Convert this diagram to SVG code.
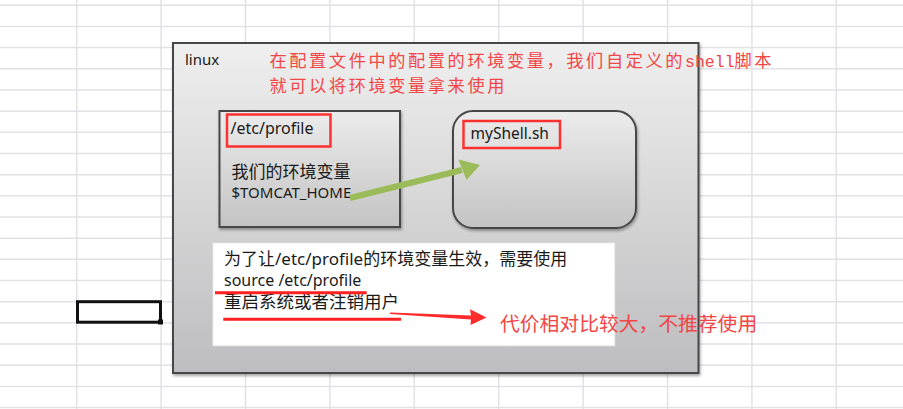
<svg xmlns="http://www.w3.org/2000/svg" width="903" height="409" viewBox="0 0 903 409">
<defs>
<style>
.grid{stroke:#e2e2e6;stroke-width:1.5;fill:none}
.box{stroke:#474747;stroke-width:2}
.hl{fill:none;stroke:#ff3030;stroke-width:2.5}
.lat{font-family:"Noto Sans","Noto Sans CJK SC",sans-serif;fill:#1a1a1a}
.red{font-family:"Noto Sans CJK SC",sans-serif;fill:#f24646;font-size:19.8px}
.title{font-size:17.2px;letter-spacing:2.6px}
.mono{font-family:"Liberation Mono",monospace;font-size:16.5px;letter-spacing:0}
</style>
<linearGradient id="gOuter" x1="0" y1="0" x2="0" y2="1">
<stop offset="0" stop-color="#efefef"/>
<stop offset="1" stop-color="#bdbcbe"/>
</linearGradient>
<linearGradient id="gInner" x1="0" y1="0" x2="0" y2="1">
<stop offset="0" stop-color="#ececec"/>
<stop offset="1" stop-color="#c3c3c3"/>
</linearGradient>
<filter id="sh" x="-5%" y="-5%" width="110%" height="115%">
<feDropShadow dx="1" dy="2" stdDeviation="1.5" flood-color="#000" flood-opacity="0.35"/>
</filter>
</defs>
<rect width="903" height="409" fill="#ffffff"/>
<g id="grid">
<path class="grid" d="M0 5.3H903M0 26.5H903M0 47.6H903M0 68.8H903M0 90H903M0 111.2H903M0 132.3H903M0 153.5H903M0 174.7H903M0 195.8H903M0 217H903M0 238.2H903M0 259.3H903M0 280.5H903M0 301.7H903M0 322.8H903M0 344H903M0 365.2H903M0 386.4H903M0 407.5H903"/>
<path class="grid" d="M76.7 0V409M161.1 0V409M245.5 0V409M329.9 0V409M414.3 0V409M498.7 0V409M583.1 0V409M667.5 0V409M751.9 0V409M836.3 0V409"/>
</g>
<g id="selected-cell">
<rect x="77.5" y="301.7" width="83" height="20.5" fill="none" stroke="#111" stroke-width="3"/>
<rect x="158" y="319.5" width="5" height="5" fill="#111"/>
</g>
<g id="linux">
<rect class="box" x="173" y="43" width="525.5" height="330" fill="url(#gOuter)" filter="url(#sh)"/>
<text class="lat" x="185" y="65" font-size="15" fill="#333">linux</text>
<text class="red title" x="269.5" y="66.5">在配置文件中的配置的环境变量，我们自定义的<tspan class="mono">shell</tspan>脚本</text>
<text class="red title" x="269.5" y="92">就可以将环境变量拿来使用</text>
</g>
<g id="etc-profile">
<rect class="box" x="219.5" y="111" width="180.5" height="116" fill="url(#gInner)" filter="url(#sh)"/>
<rect class="hl" x="227" y="114.5" width="103.5" height="32"/>
<text class="lat" x="230.5" y="133.5" font-size="16">/etc/profile</text>
<text class="lat" x="231.5" y="178" font-size="17">我们的环境变量</text>
<text class="lat" x="231.5" y="198" font-size="15">$TOMCAT_HOME</text>
</g>
<g id="myshell">
<rect class="box" x="453" y="111" width="183" height="117" rx="20" fill="url(#gInner)" filter="url(#sh)"/>
<rect class="hl" x="463.5" y="121" width="96.5" height="27"/>
<text class="lat" x="470.5" y="138.5" font-size="15.5">myShell.sh</text>
</g>
<g id="note">
<rect x="212.7" y="242.7" width="402.3" height="103.3" fill="#ffffff" stroke="#d8d8d8" stroke-width="1"/>
<text class="lat" x="224" y="265" font-size="17">为了让/etc/profile的环境变量生效，需要使用</text>
<text class="lat" x="224" y="286" font-size="16">source /etc/profile</text>
<text class="lat" x="224" y="308" font-size="17.5">重启系统或者注销用户</text>
<path d="M215 292.7H366.7M223.3 319.3H401" stroke="#ff2020" stroke-width="3" fill="none"/>
</g>
<g id="cost">
<text class="red" x="500" y="331">代价相对比较大，不推荐使用</text>
</g>
<g id="connectors">
<g id="env-to-shell">
<path d="M350 198L462 170" stroke="#9bbb59" stroke-width="6" fill="none"/>
<polygon points="480,165 458.5,159.5 466.5,180" fill="#9bbb59"/>
</g>
<g id="restart-to-cost">
<polygon points="390,312.5 471,315.5 470,309.3 486.5,317.6 470.5,325 471,319.5 390,314" fill="#ff2a2a"/>
</g>
</g>
</svg>
